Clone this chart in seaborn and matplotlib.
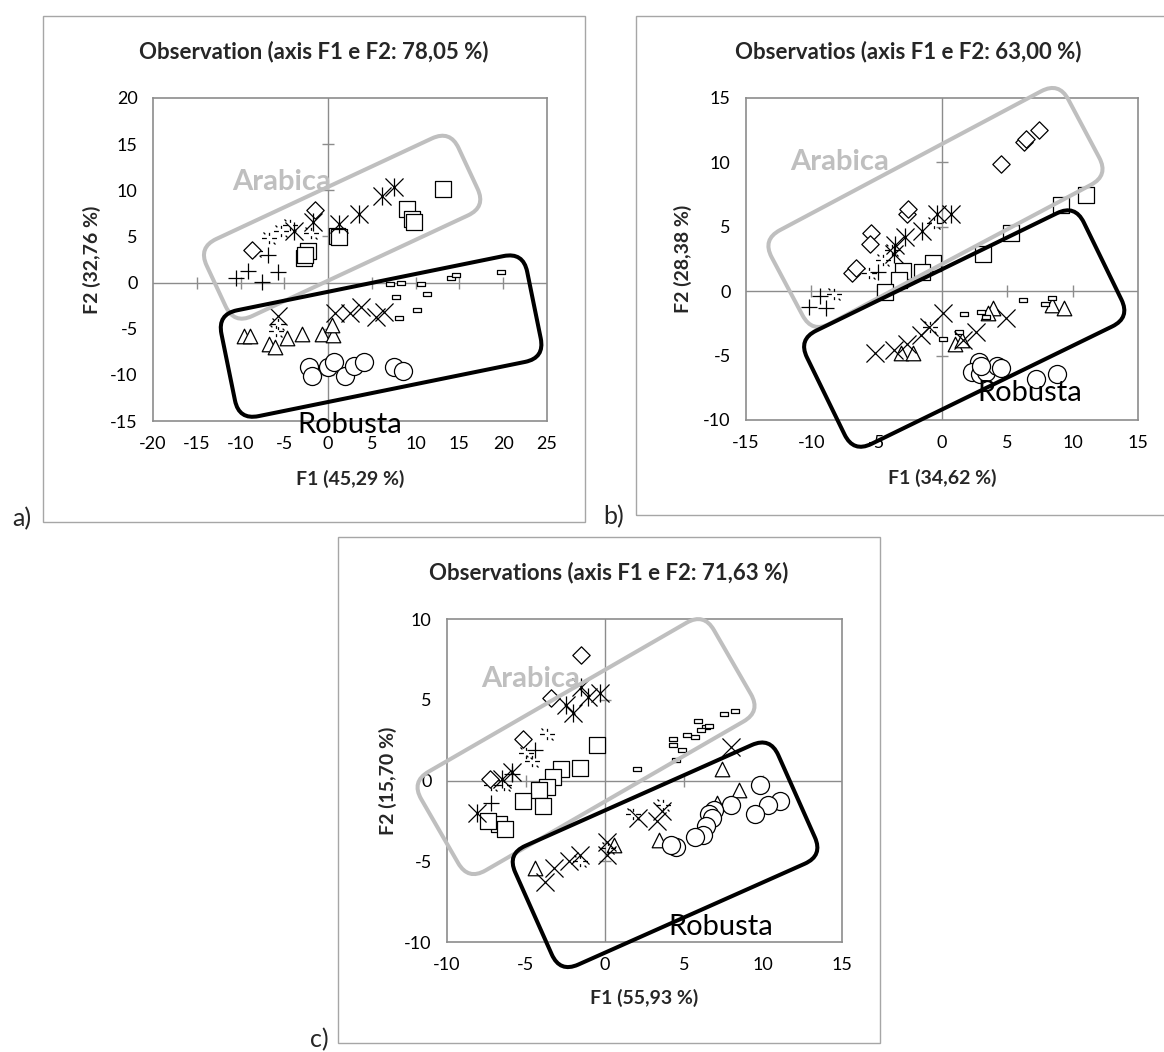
"""PCA score plots (F1 x F2) for three coffee datasets, Arabica vs Robusta."""

import numpy as np
import pandas as pd
import seaborn as sns
import matplotlib.pyplot as plt
from matplotlib.path import Path
from matplotlib.patches import FancyBboxPatch, Rectangle
from matplotlib.transforms import Affine2D

W_PX, H_PX = 1164, 1052

# ---------------------------------------------------------------------------
# Data (F1, F2 scores)
# ---------------------------------------------------------------------------

# panel a
a_square_x = [13.1, 9.0, 9.6, 9.8, 1.0, 1.3, -2.3, -2.8, -2.6]
a_square_y = [10.1, 8.0, 6.9, 6.6, 5.1, 4.9, 3.4, 2.7, 3.0]
a_star_x = [7.5, 6.1, 3.5, 1.3, -1.7, -3.9]
a_star_y = [10.4, 9.4, 7.4, 6.3, 6.6, 5.6]
a_diamond_x = [-1.5, -8.7]
a_diamond_y = [7.9, 3.5]
a_plus_x = [-6.9, -9.2, -7.6, -5.7, -10.5]
a_plus_y = [3.0, 1.2, 0.1, 1.1, 0.5]
a_dash_x = [-4.3, -5.4, -6.7, -8.4, -5.7, -5.9, -1.9]
a_dash_y = [6.2, 5.6, 4.8, 3.4, -4.5, -5.3, 5.4]
a_bar_x = [7.1, 8.3, 10.6, 11.3, 7.7, 10.1, 8.1, 14.0, 14.6, 19.7]
a_bar_y = [-0.2, 0.0, -0.2, -1.2, -1.6, -3.0, -3.8, 0.5, 0.8, 1.1]
a_cross_x = [-5.7, 0.8, 2.5, 3.7, 5.5, 6.4]
a_cross_y = [-3.6, -3.3, -3.3, -2.7, -3.7, -3.2]
a_tri_x = [-9.6, -8.9, -6.7, -6.1, -4.7, -3.0, -0.7, 0.6, 0.5]
a_tri_y = [-5.8, -5.8, -6.7, -7.0, -6.0, -5.6, -5.6, -5.7, -4.6]
a_circle_x = [-2.2, -1.8, 0.0, 0.7, 1.9, 2.9, 4.1, 7.5, 8.5]
a_circle_y = [-9.2, -10.1, -9.1, -8.6, -10.1, -9.0, -8.6, -9.2, -9.6]

# panel b
b_diamond_x = [4.5, 6.3, 6.4, 7.4, -2.7, -2.6, -5.4, -5.5, -6.9, -6.6]
b_diamond_y = [9.9, 11.6, 11.8, 12.5, 6.0, 6.4, 4.5, 3.7, 1.4, 1.8]
b_square_x = [11.0, 9.1, 5.3, 3.1, -0.7, -1.5, -3.0, -3.3, -4.4]
b_square_y = [7.5, 6.7, 4.5, 2.9, 2.2, 1.5, 1.6, 0.9, -0.1]
b_star_x = [0.7, -0.4, -1.5, -2.8, -3.6, -3.7]
b_star_y = [6.0, 6.0, 4.7, 4.2, 3.6, 2.9]
b_plus_x = [-10.2, -8.9, -9.3, -4.9]
b_plus_y = [-1.2, -1.3, -0.4, 1.5]
b_dash_x = [-8.3, -5.6, -4.5, -0.6, -0.9, -3.8]
b_dash_y = [-0.2, 1.4, 2.4, 5.3, -2.8, 3.2]
b_cross_x = [-5.1, -3.7, -2.7, -1.6, -1.0, 0.1, 2.6, 4.9, 1.6]
b_cross_y = [-4.8, -4.6, -4.1, -3.4, -2.8, -1.7, -3.2, -2.1, -3.8]
b_tri_x = [3.9, 3.5, 8.4, 9.3, 1.0, 1.5, -3.1, -2.2]
b_tri_y = [-1.3, -1.7, -1.1, -1.3, -4.1, -3.8, -4.8, -4.8]
b_bar_x = [1.7, 3.0, 3.4, 6.2, 8.4, 7.9, 0.1, 1.3]
b_bar_y = [-1.8, -1.6, -2.0, -0.7, -0.5, -1.0, -3.7, -3.2]
b_circle_x = [2.8, 2.3, 2.9, 3.4, 4.2, 4.5, 7.2, 8.8, 3.0]
b_circle_y = [-5.5, -6.3, -6.4, -6.3, -5.8, -6.0, -6.8, -6.4, -5.8]

# panel c
c_diamond_x = [-1.5, -3.4, -5.2, -7.3]
c_diamond_y = [7.8, 5.1, 2.6, 0.1]
c_star_x = [-0.3, -1.1, -1.5, -2.5, -2.0, -5.9, -6.5, -8.1]
c_star_y = [5.4, 5.2, 5.8, 4.7, 4.2, 0.5, 0.1, -2.0]
c_plus_x = [-4.4, -5.9, -7.2]
c_plus_y = [1.9, 0.4, -1.4]
c_square_x = [-0.5, -1.6, -2.8, -3.3, -3.7, -4.2, -5.2, -3.9, -6.7, -6.3, -7.4]
c_square_y = [2.2, 0.8, 0.7, 0.2, -0.4, -0.6, -1.3, -1.6, -2.7, -3.0, -2.5]
c_dash_x = [-3.7, -5.0, -7.2, -6.4, 1.8, 3.7, 0.2, -1.6, -4.6]
c_dash_y = [2.9, 1.7, -0.3, -0.3, -2.1, -1.5, -4.2, -5.0, 1.2]
c_bar_x = [8.2, 7.5, 6.4, 6.6, 6.1, 5.9, 5.7, 5.2, 4.3, 4.3, 4.9, 4.5, 2.0]
c_bar_y = [4.3, 4.1, 3.3, 3.4, 3.1, 3.7, 2.7, 2.8, 2.6, 2.2, 1.9, 1.3, 0.7]
c_cross_x = [8.0, 0.1, 0.1, 2.1, 3.3, 3.6, -3.8, -3.2, -2.3, -1.6]
c_cross_y = [2.1, -3.8, -4.6, -2.3, -2.5, -1.9, -6.3, -5.4, -5.0, -4.6]
c_tri_x = [7.4, 8.5, 7.1, 3.4, -4.4, 0.6]
c_tri_y = [0.7, -0.6, -1.4, -3.7, -5.4, -4.0]
c_circle_x = [9.8, 11.1, 10.3, 9.5, 8.0, 6.9, 6.6, 6.8, 6.4, 6.2, 5.7, 4.5, 4.2]
c_circle_y = [-0.3, -1.3, -1.5, -2.1, -1.5, -1.8, -2.1, -2.3, -2.8, -3.4, -3.5, -4.1, -4.0]


# ---------------------------------------------------------------------------
# Marker styles (Excel-like)
# ---------------------------------------------------------------------------

M, L = Path.MOVETO, Path.LINETO
STAR = Path([(-1, -1), (1, 1), (-1, 1), (1, -1), (0, -1), (0, 1)], [M, L] * 3)
BAR = Path([(-1, -0.38), (1, -0.38), (1, 0.38), (-1, 0.38), (-1, -0.38)],
           [M, L, L, L, Path.CLOSEPOLY])
DASHED = Path([(-1, 0), (-0.35, 0), (0.35, 0), (1, 0),
               (0, 0.35), (0, 0.75), (0, -0.35), (0, -0.75),
               (-0.8, 0.8), (-0.55, 0.55), (0.55, -0.55), (0.8, -0.8)],
              [M, L] * 6)

# group -> (marker, size in pt^2, face colour)
MARKERS = {
    "square": ("s", 149, "white"),
    "diamond": ("D", 78, "white"),
    "triangle": ("^", 110, "white"),
    "circle": ("o", 169, "white"),
    "bar": (BAR, 36, "white"),
    "cross": ("x", 169, "black"),
    "plus": ("+", 117, "black"),
    "star": (STAR, 169, "white"),
    "dash": (DASHED, 117, "white"),
}

GRAY_AXIS = "#8C8C8C"
GRAY_FRAME = "#A6A6A6"
GRAY_ARABICA = "#BFBFBF"


def panel_frame(**groups):
    parts = [pd.DataFrame({"F1": xs, "F2": ys, "group": name})
             for name, (xs, ys) in groups.items()]
    return pd.concat(parts, ignore_index=True)


df_a = panel_frame(
    triangle=(a_tri_x, a_tri_y), circle=(a_circle_x, a_circle_y),
    bar=(a_bar_x, a_bar_y), cross=(a_cross_x, a_cross_y),
    dash=(a_dash_x, a_dash_y), plus=(a_plus_x, a_plus_y),
    diamond=(a_diamond_x, a_diamond_y), square=(a_square_x, a_square_y),
    star=(a_star_x, a_star_y),
)
df_b = panel_frame(
    triangle=(b_tri_x, b_tri_y), circle=(b_circle_x, b_circle_y),
    bar=(b_bar_x, b_bar_y), cross=(b_cross_x, b_cross_y),
    dash=(b_dash_x, b_dash_y), plus=(b_plus_x, b_plus_y),
    diamond=(b_diamond_x, b_diamond_y), square=(b_square_x, b_square_y),
    star=(b_star_x, b_star_y),
)
df_c = panel_frame(
    triangle=(c_tri_x, c_tri_y), circle=(c_circle_x, c_circle_y),
    bar=(c_bar_x, c_bar_y), cross=(c_cross_x, c_cross_y),
    dash=(c_dash_x, c_dash_y), plus=(c_plus_x, c_plus_y),
    diamond=(c_diamond_x, c_diamond_y), square=(c_square_x, c_square_y),
    star=(c_star_x, c_star_y),
)

# ---------------------------------------------------------------------------
# Layout (pixel positions in the 1164x1052 image, y from the top)
# ---------------------------------------------------------------------------

PANELS = [
    dict(df=df_a, letter="a)", letter_xy=(22, 519),
         title="Observation (axis F1 e F2: 78,05 %)", title_xy=(314, 52),
         xlabel="F1 (45,29 %)", ylabel="F2 (32,76 %)",
         xlim=(-20, 25), ylim=(-15, 20),
         plot=(153, 98, 547, 421), frame=(43, 16, 585, 522),
         label_off=(-0.18, -0.155),
         gray_box=((1.6, 6.0), 278, 85, 25), black_box=((6.05, -5.8), 312, 108, 11.5),
         arabica_xy=(-5.3, 10.9), robusta_xy=(2.5, -15.4)),
    dict(df=df_b, letter="b)", letter_xy=(614, 517),
         title="Observatios (axis F1 e F2: 63,00 %)", title_xy=(908, 52),
         xlabel="F1 (34,62 %)", ylabel="F2 (28,38 %)",
         xlim=(-15, 15), ylim=(-10, 15),
         plot=(746, 98, 1138, 420), frame=(636, 16, 1180, 515),
         label_off=(-0.18, -0.16),
         gray_box=((-0.5, 6.5), 336, 106, 28), black_box=((1.7, -2.9), 308, 126, 26),
         arabica_xy=(-7.8, 10.0), robusta_xy=(6.7, -7.9)),
    dict(df=df_c, letter="c)", letter_xy=(319, 1040),
         title="Observations (axis F1 e F2: 71,63 %)", title_xy=(609, 573),
         xlabel="F1 (55,93 %)", ylabel="F2 (15,70 %)",
         xlim=(-10, 15), ylim=(-10, 10),
         plot=(447, 619, 842, 942), frame=(338, 537, 880, 1043),
         label_off=(-0.173, -0.149),
         gray_box=((-1.2, 2.1), 338, 114, 30), black_box=((3.8, -4.6), 288, 130, 24),
         arabica_xy=(-4.7, 6.3), robusta_xy=(7.3, -9.1)),
]


def rounded_box(fig, ax, spec, color):
    """Rotated rounded rectangle: centre in data units, size in pixels."""
    center, width, height, angle = spec
    cx, cy = ax.transData.transform(center)
    box = FancyBboxPatch((cx - width / 2, cy - height / 2), width, height,
                         boxstyle="round,pad=0,rounding_size=20",
                         transform=Affine2D().rotate_deg_around(cx, cy, angle),
                         fill=False, edgecolor=color, linewidth=2.9, zorder=6)
    fig.add_artist(box)


def draw_panel(fig, p):
    x0, y0, x1, y1 = p["plot"]
    ax = fig.add_axes([x0 / W_PX, 1 - y1 / H_PX, (x1 - x0) / W_PX, (y1 - y0) / H_PX])

    for group, sub in p["df"].groupby("group", sort=False):
        marker, size, face = MARKERS[group]
        sns.scatterplot(data=sub, x="F1", y="F2", ax=ax, marker=marker, s=size,
                        color=face, edgecolor="black", linewidth=0.9,
                        zorder=3, legend=False)

    ax.set_xlim(*p["xlim"])
    ax.set_ylim(*p["ylim"])
    xt = np.arange(p["xlim"][0], p["xlim"][1] + 1, 5)
    yt = np.arange(p["ylim"][0], p["ylim"][1] + 1, 5)
    ax.set_xticks(xt)
    ax.set_yticks(yt)
    ax.tick_params(length=0, pad=11, labelsize=13, colors="black")

    # axes through the origin, with cross tick marks
    ax.axhline(0, color=GRAY_AXIS, lw=1, zorder=1)
    ax.axvline(0, color=GRAY_AXIS, lw=1, zorder=1)
    inner_x = [t for t in xt[1:-1] if t != 0]
    inner_y = [t for t in yt[1:-1] if t != 0]
    ax.plot(inner_x, np.zeros(len(inner_x)), ls="none", marker="|", ms=8,
            mew=1, color=GRAY_AXIS, zorder=1)
    ax.plot(np.zeros(len(inner_y)), inner_y, ls="none", marker="_", ms=8,
            mew=1, color=GRAY_AXIS, zorder=1)

    for side in ax.spines.values():
        side.set_color(GRAY_AXIS)
        side.set_linewidth(1.2)

    ax.set_xlabel(p["xlabel"], fontsize=14, fontweight="bold")
    ax.set_ylabel(p["ylabel"], fontsize=14, fontweight="bold")
    ax.xaxis.set_label_coords(0.5, p["label_off"][0])
    ax.yaxis.set_label_coords(p["label_off"][1], 0.5)
    ax.xaxis.label.set_va("center")
    ax.yaxis.label.set_va("center")

    rounded_box(fig, ax, p["gray_box"], GRAY_ARABICA)
    rounded_box(fig, ax, p["black_box"], "black")
    ax.text(*p["arabica_xy"], "Arabica", color=GRAY_ARABICA, fontsize=21,
            fontweight="bold", ha="center", va="center", zorder=7, clip_on=False)
    ax.text(*p["robusta_xy"], "Robusta", color="black", fontsize=21,
            ha="center", va="center", zorder=7, clip_on=False)

    fx0, fy0, fx1, fy1 = p["frame"]
    fig.add_artist(Rectangle((fx0 / W_PX, 1 - fy1 / H_PX), (fx1 - fx0) / W_PX,
                             (fy1 - fy0) / H_PX, transform=fig.transFigure,
                             fill=False, edgecolor=GRAY_FRAME, linewidth=1))
    tx, ty = p["title_xy"]
    fig.text(tx / W_PX, 1 - ty / H_PX, p["title"], fontsize=16,
             fontweight="bold", ha="center", va="center")
    lx, ly = p["letter_xy"]
    fig.text(lx / W_PX, 1 - ly / H_PX, p["letter"], fontsize=18,
             ha="center", va="center")
    return ax


sns.set_theme(style="white")
plt.rcParams["font.family"] = ["Lato", "DejaVu Sans"]
plt.rcParams["axes.unicode_minus"] = False

fig = plt.figure(figsize=(W_PX / 100, H_PX / 100), dpi=100, facecolor="white")
for panel in PANELS:
    draw_panel(fig, panel)

fig.savefig("out.png", dpi=100, facecolor="white")
